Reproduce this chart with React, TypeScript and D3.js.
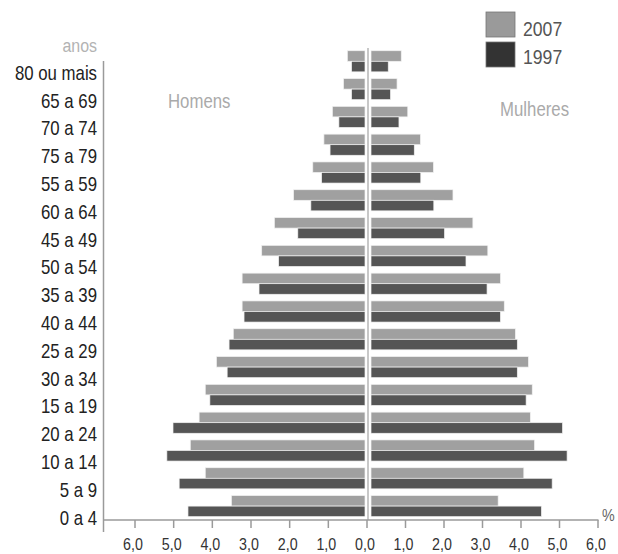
import React from 'react';
import * as d3 from 'd3';

// age groups, top to bottom, as printed in the chart
const ageGroups = [
    '80 ou mais', '65 a 69', '70 a 74', '75 a 79', '55 a 59', '60 a 64',
    '45 a 49', '50 a 54', '35 a 39', '40 a 44', '25 a 29', '30 a 34',
    '15 a 19', '20 a 24', '10 a 14', '5 a 9', '0 a 4',
];

const years = ['2007', '1997'];

// % of population
const homens2007 = [0.46, 0.56, 0.85, 1.07, 1.36, 1.86, 2.36, 2.69, 3.2, 3.2, 3.43, 3.87, 4.16, 4.32, 4.55, 4.16, 3.48];
const homens1997 = [0.35, 0.35, 0.68, 0.91, 1.13, 1.41, 1.75, 2.25, 2.76, 3.15, 3.54, 3.59, 4.04, 5.0, 5.16, 4.84, 4.61];
const mulheres2007 = [0.79, 0.68, 0.96, 1.29, 1.63, 2.14, 2.66, 3.05, 3.38, 3.48, 3.77, 4.11, 4.21, 4.16, 4.27, 3.99, 3.32];
const mulheres1997 = [0.45, 0.51, 0.73, 1.13, 1.3, 1.64, 1.92, 2.48, 3.03, 3.38, 3.82, 3.82, 4.05, 5.0, 5.12, 4.73, 4.45];

const tickValues = [0, 1, 2, 3, 4, 5, 6];

const W = 618;
const H = 554;
const FONT = "'Liberation Sans', Arial, sans-serif";
const colors: Record<string, string> = { '2007': '#a0a0a0', '1997': '#555555' };
const legendColors: Record<string, string> = { '2007': '#9a9a9a', '1997': '#333333' };

// the original uses a condensed face; squeeze Liberation Sans horizontally
const Narrow: React.FC<{
    x: number;
    y: number;
    size: number;
    fill: string;
    anchor?: 'start' | 'middle' | 'end';
    children: React.ReactNode;
}> = ({ x, y, size, fill, anchor = 'start', children }) => (
    <text
        transform={`translate(${x},${y}) scale(0.84,1)`}
        textAnchor={anchor}
        fontSize={size}
        fill={fill}
    >
        {children}
    </text>
);

const App: React.FC = () => {
    const y = d3.scaleBand<string>()
        .domain(ageGroups)
        .range([47.4, 520])
        .paddingInner(0.24)
        .paddingOuter(0.12);
    const ySub = d3.scaleBand<string>()
        .domain(years)
        .range([0, y.bandwidth()]);

    // bars start just off the centre line, one on each side
    const xLeft = d3.scaleLinear().domain([0, 6]).range([365, 134.6]);
    const xRight = d3.scaleLinear().domain([0, 6]).range([371, 600.8]);
    // the axis ticks share one zero
    const tickLeft = d3.scaleLinear().domain([0, 6]).range([367, 135]);
    const tickRight = d3.scaleLinear().domain([0, 6]).range([367, 598]);

    const axisY = 520;
    const fmt = (v: number) => d3.format('.1f')(v).replace('.', ',');

    const series = [
        { year: '2007', men: homens2007, women: mulheres2007 },
        { year: '1997', men: homens1997, women: mulheres1997 },
    ];

    return (
        <svg
            width={W}
            height={H}
            style={{ position: 'absolute', left: 0, top: 0, background: '#fff' }}
            fontFamily={FONT}
        >
            {/* bars */}
            {series.map((s) =>
                ageGroups.map((age, i) => {
                    const yy = (y(age) ?? 0) + (ySub(s.year) ?? 0);
                    const h = ySub.bandwidth();
                    return (
                        <g key={s.year + age}>
                            <rect
                                x={xLeft(s.men[i])}
                                y={yy}
                                width={xLeft(0) - xLeft(s.men[i])}
                                height={h}
                                fill={colors[s.year]}
                                stroke="#f2f2f2"
                                strokeWidth={0.7}
                            />
                            <rect
                                x={xRight(0)}
                                y={yy}
                                width={xRight(s.women[i]) - xRight(0)}
                                height={h}
                                fill={colors[s.year]}
                                stroke="#f2f2f2"
                                strokeWidth={0.7}
                            />
                        </g>
                    );
                }),
            )}

            {/* centre line */}
            <line x1={368} x2={368} y1={48} y2={axisY} stroke="#c8c8c8" strokeWidth={2} />

            {/* left axis */}
            <line x1={103.5} x2={103.5} y1={61} y2={axisY + 12} stroke="#9a9a9a" strokeWidth={1.5} />

            {/* bottom axis */}
            <line x1={103.5} x2={598.5} y1={axisY} y2={axisY} stroke="#9a9a9a" strokeWidth={1.5} />
            {tickValues.map((v) => (
                <g key={'tl' + v}>
                    <line x1={tickLeft(v)} x2={tickLeft(v)} y1={axisY} y2={axisY + 8} stroke="#9a9a9a" strokeWidth={1.5} />
                    <Narrow x={tickLeft(v) - 2} y={550} anchor="middle" size={17} fill="#333">
                        {fmt(v)}
                    </Narrow>
                </g>
            ))}
            {tickValues.slice(1).map((v) => (
                <g key={'tr' + v}>
                    <line x1={tickRight(v)} x2={tickRight(v)} y1={axisY} y2={axisY + 8} stroke="#9a9a9a" strokeWidth={1.5} />
                    <Narrow x={tickRight(v) - 2} y={550} anchor="middle" size={17} fill="#333">
                        {fmt(v)}
                    </Narrow>
                </g>
            ))}
            <Narrow x={602} y={521} size={17} fill="#666">%</Narrow>

            {/* age labels */}
            <Narrow x={97} y={52} anchor="end" size={19} fill="#b3b3b3">anos</Narrow>
            {ageGroups.map((age) => (
                <Narrow
                    key={age}
                    x={97}
                    y={(y(age) ?? 0) + y.bandwidth() + 8}
                    anchor="end"
                    size={20}
                    fill="#222"
                >
                    {age}
                </Narrow>
            ))}

            {/* side labels */}
            <Narrow x={168} y={108} size={20} fill="#aaa">Homens</Narrow>
            <Narrow x={500} y={116} size={20} fill="#aaa">Mulheres</Narrow>

            {/* legend */}
            {years.map((yr, i) => (
                <g key={yr}>
                    <rect x={486} y={12 + i * 30} width={29} height={25} fill={legendColors[yr]} stroke="#777" strokeWidth={0.8} />
                    <Narrow x={523} y={i === 0 ? 36 : 64} size={21} fill="#555">{yr}</Narrow>
                </g>
            ))}
        </svg>
    );
};

export default App;
